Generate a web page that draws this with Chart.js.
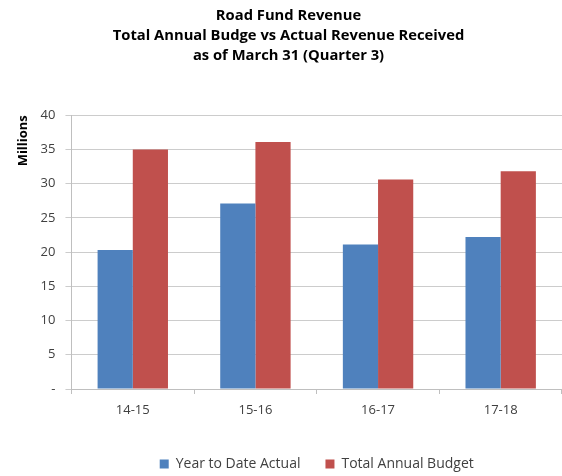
<!DOCTYPE html>
<html>
<head>
<meta charset="utf-8">
<script src="https://cdn.jsdelivr.net/npm/chart.js@4"></script>
<style>
    html, body { margin: 0; padding: 0; background: #fff; }
    #wrap { width: 562px; height: 476px; }
</style>
</head>
<body>
<div id="wrap"><canvas id="barChart"></canvas></div>
<script>
const seasons = ['14-15', '15-16', '16-17', '17-18'];
const yearToDate = [20.3, 27.1, 21.1, 22.2];
const annualBudget = [35.0, 36.1, 30.6, 31.8];
const titleLines = [
    'Road Fund Revenue',
    'Total Annual Budge vs Actual Revenue Received',
    'as of March 31 (Quarter 3)'
];

Chart.defaults.font.family = 'Open Sans, Liberation Sans, sans-serif';
Chart.defaults.color = '#404040';

new Chart(document.getElementById('barChart'), {
    type: 'bar',
    data: {
        labels: seasons,
        datasets: [
            {
                label: 'Year to Date Actual',
                data: yearToDate,
                backgroundColor: '#4F81BD'
            },
            {
                label: 'Total Annual Budget',
                data: annualBudget,
                backgroundColor: '#C0504D'
            }
        ]
    },
    options: {
        responsive: true,
        maintainAspectRatio: false,
        animation: false,
        barPercentage: 1,
        categoryPercentage: 0.574,
        layout: { padding: { left: 15, right: 0, top: 6, bottom: -5 } },
        plugins: {
            title: {
                display: true,
                text: titleLines,
                color: '#000',
                font: { size: 14.75, weight: 'bold', lineHeight: 1.36 },
                padding: { top: 0, bottom: 49 }
            },
            legend: {
                position: 'bottom',
                fullSize: false,
                labels: {
                    boxWidth: 9,
                    boxHeight: 9,
                    padding: 25,
                    font: { size: 14 }
                }
            },
            tooltip: { enabled: false }
        },
        scales: {
            x: {
                grid: {
                    display: true,
                    drawOnChartArea: false,
                    drawTicks: true,
                    tickLength: 5,
                    color: '#bfbfbf'
                },
                border: { color: '#bfbfbf' },
                ticks: { font: { size: 13 }, padding: 8 },
                afterFit: scale => { scale.height = 43; }
            },
            y: {
                min: 0,
                max: 40,
                ticks: {
                    stepSize: 5,
                    font: { size: 13 },
                    padding: 10,
                    callback: v => v === 0 ? '-' : v
                },
                grid: { color: '#cccccc', tickLength: 6 },
                border: { color: '#bfbfbf' },
                title: {
                    display: true,
                    text: 'Millions',
                    align: 'end',
                    color: '#000',
                    font: { size: 13, weight: 'bold' },
                    padding: { top: 0, bottom: 0 }
                }
            }
        }
    }
});
</script>
</body>
</html>
